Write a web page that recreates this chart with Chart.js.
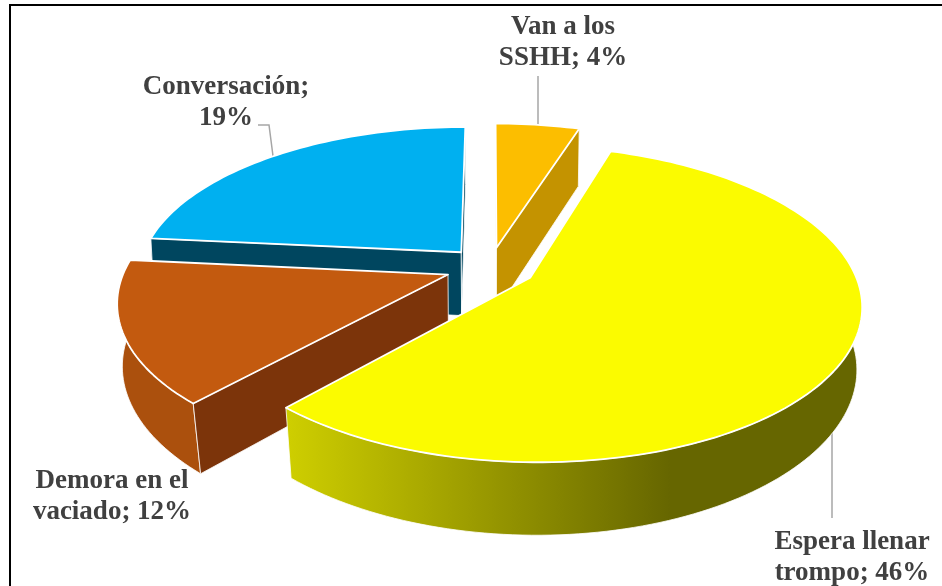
<!DOCTYPE html>
<html><head><meta charset="utf-8">
<style>html,body{margin:0;padding:0;background:#fff}#w{position:absolute;left:0;top:0;width:942px;height:586px}</style>
<script src="https://cdn.jsdelivr.net/npm/chart.js@4/dist/chart.umd.js"></script>
</head><body><div id="w"><canvas id="c" width="942" height="586"></canvas></div>
<script>
const categories = ['Van a los SSHH', 'Espera llenar trompo', 'Demora en el vaciado', 'Conversación'];
const percents = [4, 46, 12, 19];
const labelLines = [['Van a los', 'SSHH; 4%'], ['Espera llenar', 'trompo; 46%'], ['Demora en el', 'vaciado; 12%'], ['Conversación;', '19%']];
const topColors = ['#FCBE00', '#FBFB00', '#C35A0F', '#00B0F0'];
const faceColors = ['#C49300', '#666600', '#7C340A', '#00465F'];
const rimFrom = ['#C49300', '#CFCF00', '#AB500D', '#00465F'];
const rimTo = ['#C49300', '#666600', '#9C480B', '#00465F'];
const explode = [34.6, 37, 36, 35];
const paintOrder = [0, 3, 2, 1];

// view of the tilted pie
const VIEW = { sx: 1.24, sy: 0.578, persp: 0.164, h0: 22, h1: 42 };

function project(el, X, Y, bottom) {
  const R = el.outerRadius, s = 1 / (1 - VIEW.persp * Y);
  const shrink = bottom ? 0.99 - 0.1 * Math.max(0, s - 1) : 1;
  const px = el.x + R * VIEW.sx * X * s * shrink;
  const py = el.y + R * VIEW.sy * Y * s + (bottom ? VIEW.h0 + VIEW.h1 * s : 0);
  return [px, py];
}
function poly(ctx, pts) {
  ctx.beginPath();
  pts.forEach((p, i) => i ? ctx.lineTo(p[0], p[1]) : ctx.moveTo(p[0], p[1]));
  ctx.closePath();
}

class Arc3D extends Chart.ArcElement {
  static id = 'arc3d';
  draw(ctx) {
    const o = this.options, i = this.$context.index;
    const a0 = this.startAngle, a1 = this.endAngle, mid = (a0 + a1) / 2;
    const e = o.offset / this.outerRadius;
    const ox = e * Math.cos(mid), oy = e * Math.sin(mid);
    const N = Math.max(8, Math.ceil((a1 - a0) * 40));
    const rimAt = b => { const r = [];
      for (let k = 0; k <= N; k++) { const a = a0 + (a1 - a0) * k / N;
        r.push(project(this, ox + Math.cos(a), oy + Math.sin(a), b)); }
      return r; };
    const topArc = rimAt(false), botArc = rimAt(true);
    const apexT = project(this, ox, oy, false), apexB = project(this, ox, oy, true);
    ctx.save();
    ctx.lineJoin = 'round';
    const g = ctx.createLinearGradient(this.x - 205, 0, this.x + 180, 0);
    g.addColorStop(0, rimFrom[i]); g.addColorStop(1, rimTo[i]);
    poly(ctx, topArc.concat(botArc.slice().reverse()));
    ctx.fillStyle = g; ctx.fill();
    ctx.strokeStyle = 'rgba(255,255,255,0.8)'; ctx.lineWidth = 1; ctx.stroke();
    const face = (t, b) => {
      poly(ctx, [apexT, t, b, apexB]);
      ctx.fillStyle = faceColors[i]; ctx.fill();
      ctx.strokeStyle = 'rgba(255,255,255,0.8)'; ctx.lineWidth = 1; ctx.stroke();
    };
    if (topArc[0][0] < apexT[0]) face(topArc[0], botArc[0]);
    if (topArc[N][0] > apexT[0]) face(topArc[N], botArc[N]);
    poly(ctx, [apexT].concat(topArc));
    ctx.fillStyle = o.backgroundColor; ctx.fill();
    ctx.strokeStyle = o.borderColor; ctx.lineWidth = o.borderWidth; ctx.stroke();
    ctx.restore();
  }
}
class Pie3D extends Chart.PieController {
  static id = 'pie3d';
  static defaults = Object.assign({}, Chart.PieController.defaults, { dataElementType: 'arc3d' });
  static overrides = Chart.PieController.overrides;
  draw() {
    const ctx = this.chart.ctx, arcs = this._cachedMeta.data;
    paintOrder.forEach(i => arcs[i].draw(ctx));
  }
}
Chart.register(Arc3D, Pie3D);

const leaders = [
  [[538, 76], [538, 125]],
  [[832, 432], [832, 518]],
  [[258, 125], [269, 125], [273, 156]]
];
const labelAnchors = [[563, 34], [852, 549], [112, 488], [226, 94]];
const decor = {
  id: 'decor',
  beforeDraw(chart) {
    const ctx = chart.ctx;
    ctx.save();
    ctx.fillStyle = '#fff'; ctx.fillRect(0, 0, 942, 586);
    ctx.strokeStyle = '#000'; ctx.lineWidth = 2;
    ctx.beginPath(); ctx.moveTo(10, 586); ctx.lineTo(10, 5); ctx.lineTo(942, 5); ctx.stroke();
    ctx.strokeStyle = '#A6A6A6'; ctx.lineWidth = 1.5;
    leaders.forEach(l => { ctx.beginPath(); l.forEach((p, i) => i ? ctx.lineTo(p[0], p[1]) : ctx.moveTo(p[0], p[1])); ctx.stroke(); });
    ctx.restore();
  },
  afterDraw(chart) {
    const ctx = chart.ctx;
    ctx.save();
    ctx.font = 'bold 27px "Liberation Serif"';
    ctx.fillStyle = '#404040'; ctx.textAlign = 'center'; ctx.textBaseline = 'alphabetic';
    labelLines.forEach((ls, i) => ls.forEach((t, j) => ctx.fillText(t, labelAnchors[i][0], labelAnchors[i][1] + j * 30.5)));
    ctx.restore();
  }
};

new Chart(document.getElementById('c'), {
  type: 'pie3d',
  data: { labels: categories, datasets: [{ data: percents, backgroundColor: topColors, borderColor: '#FFFFFF', borderWidth: 1.8, offset: explode }] },
  options: {
    responsive: false, animation: false, events: [], radius: 260,
    layout: { padding: { left: 38, bottom: 52 } },
    plugins: { legend: { display: false }, tooltip: { enabled: false } }
  },
  plugins: [decor]
});
</script></body></html>
